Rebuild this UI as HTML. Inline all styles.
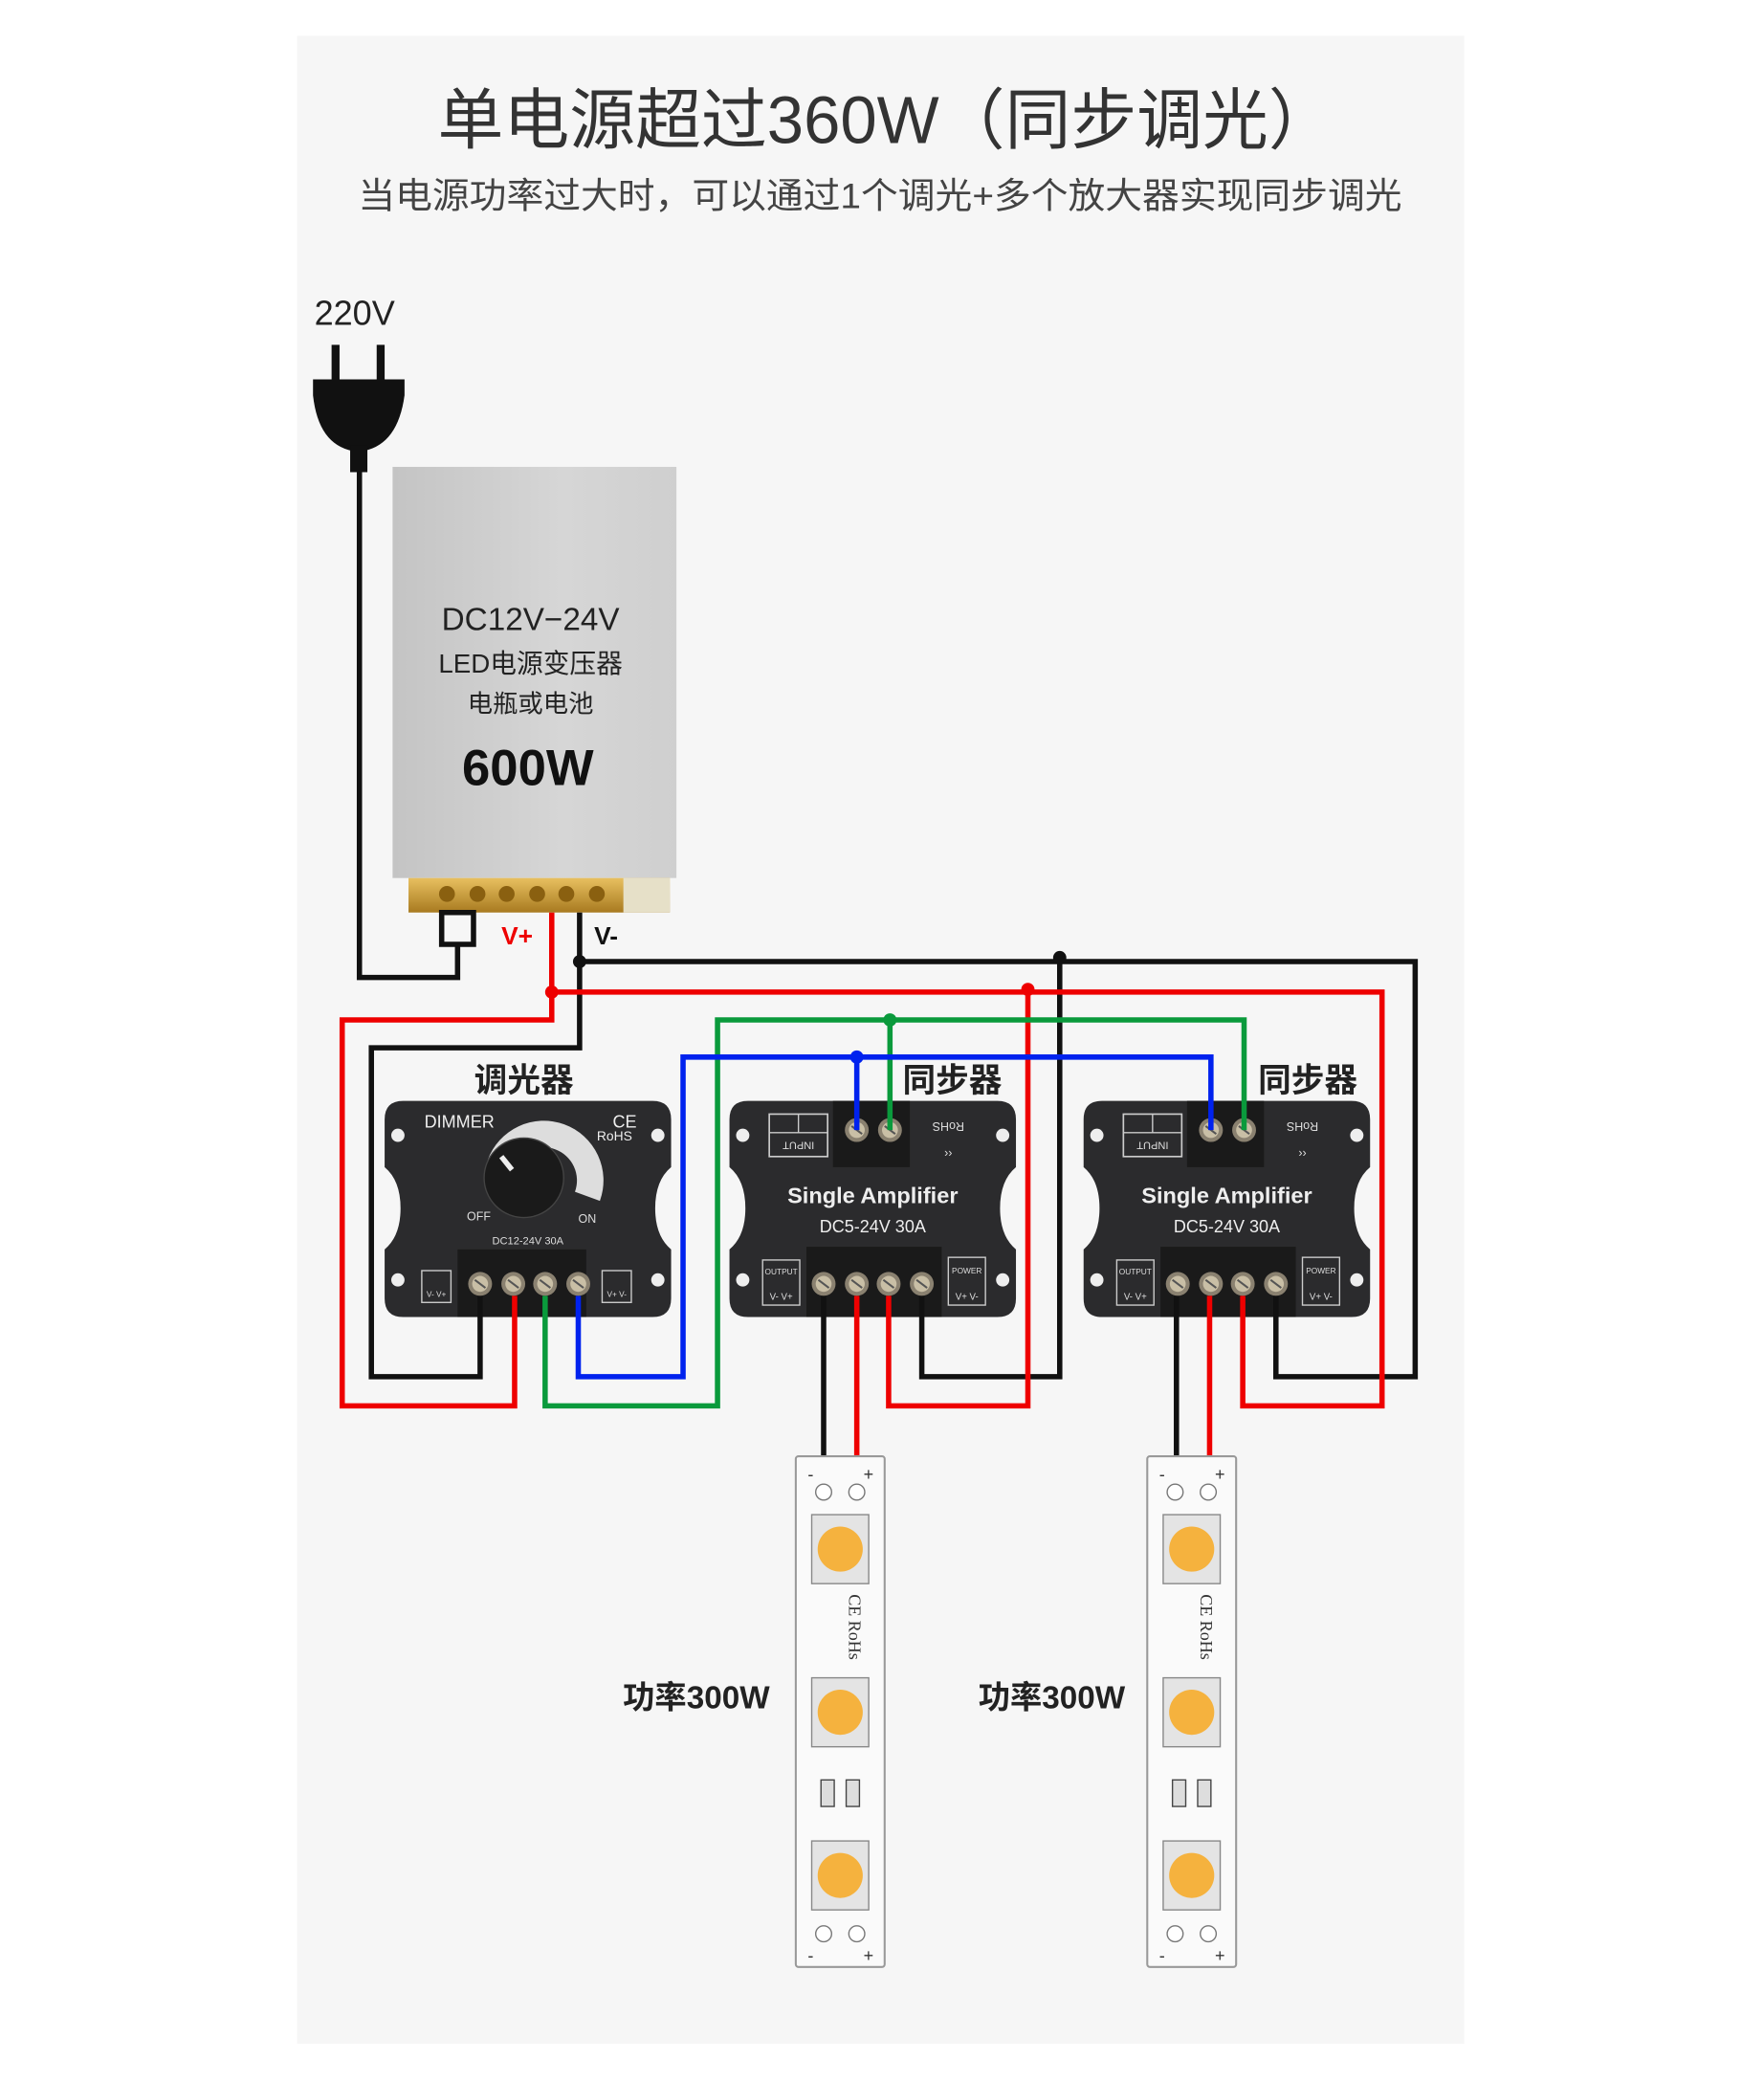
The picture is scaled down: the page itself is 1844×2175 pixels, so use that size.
<!DOCTYPE html>
<html><head><meta charset="utf-8"><style>html,body{margin:0;padding:0;background:#fff}svg{display:block}</style></head>
<body>
<svg width="1844" height="2175" viewBox="0 0 1330 1569" preserveAspectRatio="none" xmlns="http://www.w3.org/2000/svg" font-family="Liberation Sans, Noto Sans CJK SC, sans-serif">
<defs>
<linearGradient id="psu" x1="0" x2="1" y1="0" y2="0"><stop offset="0" stop-color="#c4c4c4"/><stop offset="0.6" stop-color="#d6d6d6"/><stop offset="1" stop-color="#cfcfcf"/></linearGradient>
<linearGradient id="gold" x1="0" x2="0" y1="0" y2="1"><stop offset="0" stop-color="#e8c060"/><stop offset="1" stop-color="#a87a20"/></linearGradient>
<g id="body"><path d="M14,0 H202 Q216,0 216,14 V50 Q204,60 204,81 Q204,102 216,112 V149 Q216,163 202,163 H14 Q0,163 0,149 V112 Q12,102 12,81 Q12,60 0,50 V14 Q0,0 14,0 Z" fill="#2b2b2d"/>
<circle cx="10" cy="26" r="5" fill="#eee"/><circle cx="10" cy="135" r="5" fill="#eee"/><circle cx="206" cy="26" r="5" fill="#eee"/><circle cx="206" cy="135" r="5" fill="#eee"/></g>
<g id="screw"><circle r="9" fill="#8a8170"/><circle r="6" fill="#c9bfa6"/><line x1="-4" y1="-3" x2="4" y2="3" stroke="#555" stroke-width="1.5"/></g>
<g id="amp"><use href="#body"/>
<rect x="78" y="0" width="58" height="50" fill="#1a1a1a"/>
<use href="#screw" x="96" y="22"/><use href="#screw" x="121" y="22"/>
<rect x="30" y="10" width="44" height="32" fill="none" stroke="#ccc" stroke-width="1.2"/><line x1="30" y1="24" x2="74" y2="24" stroke="#ccc"/><line x1="52" y1="10" x2="52" y2="24" stroke="#ccc"/>
<text x="52" y="37" font-size="8" fill="#ddd" text-anchor="middle" transform="rotate(180 52 34)">INPUT</text>
<text x="165" y="22" font-size="9" fill="#ddd" text-anchor="middle" transform="rotate(180 165 19)">RoHS</text>
<text x="165" y="42" font-size="9" fill="#ddd" text-anchor="middle">››</text>
<text x="108" y="77" font-size="17" font-weight="bold" fill="#eee" text-anchor="middle">Single Amplifier</text>
<text x="108" y="99" font-size="13" fill="#eee" text-anchor="middle">DC5-24V  30A</text>
<rect x="58" y="110" width="102" height="53" fill="#1a1a1a"/>
<use href="#screw" x="71" y="138"/><use href="#screw" x="96" y="138"/><use href="#screw" x="120" y="138"/><use href="#screw" x="145" y="138"/>
<rect x="25" y="120" width="28" height="34" fill="none" stroke="#ccc"/><text x="39" y="131" font-size="6" fill="#ddd" text-anchor="middle">OUTPUT</text><text x="39" y="150" font-size="7" fill="#ddd" text-anchor="middle">V- V+</text>
<rect x="165" y="118" width="28" height="36" fill="none" stroke="#ccc"/><text x="179" y="130" font-size="6" fill="#ddd" text-anchor="middle">POWER</text><text x="179" y="150" font-size="7" fill="#ddd" text-anchor="middle">V+ V-</text>
</g>
<g id="strip"><rect x="0" y="0" width="67" height="385" fill="#fafafa" stroke="#999" stroke-width="1.5" rx="2"/>
<circle cx="21" cy="27" r="6" fill="#fff" stroke="#777"/><circle cx="46" cy="27" r="6" fill="#fff" stroke="#777"/>
<circle cx="21" cy="360" r="6" fill="#fff" stroke="#777"/><circle cx="46" cy="360" r="6" fill="#fff" stroke="#777"/>
<text x="9" y="18" font-size="13" fill="#333">-</text><text x="51" y="18" font-size="13" fill="#333">+</text>
<text x="9" y="381" font-size="13" fill="#333">-</text><text x="51" y="381" font-size="13" fill="#333">+</text>
<g id="led"><rect x="12" y="44" width="43" height="52" fill="#e4e4e4" stroke="#888"/><circle cx="33.5" cy="70" r="17" fill="#f5b23e"/></g>
<use href="#led" y="123"/><use href="#led" y="246"/>
<rect x="19" y="244" width="10" height="20" fill="#ddd" stroke="#444"/><rect x="38" y="244" width="10" height="20" fill="#ddd" stroke="#444"/>
<text x="40" y="104" font-size="13" fill="#333" font-family="Liberation Serif, serif" transform="rotate(90 40 104)">CE  RoHs</text>
</g>
</defs>
<rect x="224" y="27" width="880" height="1514" fill="#f6f6f6"/>
<text x="330" y="108" font-size="50" fill="#333" textLength="676" lengthAdjust="spacingAndGlyphs">单电源超过360W（同步调光）</text>
<text x="270" y="157" font-size="27" fill="#444" textLength="787" lengthAdjust="spacingAndGlyphs">当电源功率过大时，可以通过1个调光+多个放大器实现同步调光</text>
<text x="237" y="245" font-size="26" fill="#222">220V</text>
<rect x="250" y="260" width="6" height="30" fill="#111"/><rect x="284" y="260" width="6" height="30" fill="#111"/>
<path d="M236,286 H305 V298 Q300,335 274,340 H266 Q240,335 236,298 Z" fill="#111"/>
<rect x="264" y="336" width="13" height="20" fill="#111"/>
<rect x="296" y="352" width="214" height="310" fill="url(#psu)"/>
<rect x="308" y="662" width="197" height="26" fill="url(#gold)"/>
<rect x="470" y="662" width="35" height="26" fill="#e6e0c8"/>
<g fill="#8a6010"><circle cx="337" cy="674" r="6"/><circle cx="360" cy="674" r="6"/><circle cx="382" cy="674" r="6"/><circle cx="405" cy="674" r="6"/><circle cx="427" cy="674" r="6"/><circle cx="450" cy="674" r="6"/></g>
<text x="400" y="475" font-size="24" fill="#222" text-anchor="middle">DC12V−24V</text>
<text x="400" y="507" font-size="20" fill="#222" text-anchor="middle">LED电源变压器</text>
<text x="400" y="537" font-size="19" fill="#222" text-anchor="middle">电瓶或电池</text>
<text x="398" y="592" font-size="38" fill="#111" text-anchor="middle" font-weight="bold">600W</text>
<text x="378" y="712" font-size="19" fill="#e00" font-weight="bold">V+</text>
<text x="448" y="712" font-size="19" fill="#111" font-weight="bold">V-</text>
<g transform="translate(290,830)"><use href="#body"/>
<text x="30" y="20" font-size="13" fill="#eee">DIMMER</text><text x="172" y="20" font-size="13" fill="#eee">CE</text><text x="160" y="30" font-size="10" fill="#eee">RoHS</text>
<path d="M75,60 A45,45 0 0 1 165,60 L145,60 A25,25 0 0 0 95,60 Z" fill="#ddd" transform="rotate(20 120 60)"/>
<circle cx="105" cy="58" r="30" fill="#1a1a1a" stroke="#444"/>
<line x1="88" y1="42" x2="96" y2="52" stroke="#eee" stroke-width="4"/>
<text x="62" y="90" font-size="9" fill="#ddd">OFF</text><text x="146" y="92" font-size="9" fill="#ddd">ON</text>
<text x="108" y="108" font-size="8" fill="#ddd" text-anchor="middle">DC12-24V  30A</text>
<rect x="55" y="112" width="97" height="51" fill="#1a1a1a"/>
<use href="#screw" x="72" y="138"/><use href="#screw" x="97" y="138"/><use href="#screw" x="121" y="138"/><use href="#screw" x="146" y="138"/>
<rect x="28" y="128" width="22" height="24" fill="none" stroke="#ccc"/><text x="39" y="148" font-size="6" fill="#ddd" text-anchor="middle">V- V+</text>
<rect x="164" y="128" width="22" height="24" fill="none" stroke="#ccc"/><text x="175" y="148" font-size="6" fill="#ddd" text-anchor="middle">V+ V-</text>
</g>
<g transform="translate(550,830)"><use href="#amp"/></g>
<g transform="translate(817,830)"><use href="#amp"/></g>
<text x="395" y="823" font-size="25" fill="#222" text-anchor="middle" font-weight="bold">调光器</text>
<text x="718" y="823" font-size="25" fill="#222" text-anchor="middle" font-weight="bold">同步器</text>
<text x="986" y="823" font-size="25" fill="#222" text-anchor="middle" font-weight="bold">同步器</text>
<g fill="none" stroke-width="4" stroke-linejoin="miter">
<polyline points="271,355 271,737 345,737 345,712 333,712 333,688 357,688 357,712 345,712" stroke="#111"/>
<polyline points="437,688 437,725 1067,725 1067,1038 962,1038 962,977" stroke="#111"/>
<polyline points="437,725 437,790 280,790 280,1038 362,1038 362,977" stroke="#111"/>
<polyline points="799,722 799,1038 695,1038 695,977" stroke="#111"/>
<polyline points="416,688 416,748 1042,748 1042,1060 937,1060 937,977" stroke="#e00"/>
<polyline points="416,748 416,769 258,769 258,1060 388,1060 388,977" stroke="#e00"/>
<polyline points="775,746 775,1060 670,1060 670,977" stroke="#e00"/>
<polyline points="411,977 411,1060 541,1060 541,769 938,769 938,852" stroke="#0a9a3c"/>
<polyline points="671,769 671,852" stroke="#0a9a3c"/>
<polyline points="436,977 436,1038 515,1038 515,797 913,797 913,852" stroke="#0022ee"/>
<polyline points="646,797 646,852" stroke="#0022ee"/>
<polyline points="621,977 621,1120" stroke="#111"/><polyline points="646,977 646,1120" stroke="#e00"/>
<polyline points="887,977 887,1120" stroke="#111"/><polyline points="912,977 912,1120" stroke="#e00"/>
</g>
<circle cx="437" cy="725" r="5" fill="#111"/><circle cx="799" cy="722" r="5" fill="#111"/>
<circle cx="416" cy="748" r="5" fill="#e00"/><circle cx="775" cy="746" r="5" fill="#e00"/>
<circle cx="671" cy="769" r="5" fill="#0a9a3c"/><circle cx="646" cy="797" r="5" fill="#0022ee"/>
<g transform="translate(600,1098)"><use href="#strip"/></g>
<g transform="translate(865,1098)"><use href="#strip"/></g>
<text x="525" y="1288" font-size="24" fill="#222" text-anchor="middle" font-weight="bold">功率300W</text>
<text x="793" y="1288" font-size="24" fill="#222" text-anchor="middle" font-weight="bold">功率300W</text>
</svg>
</body></html>
